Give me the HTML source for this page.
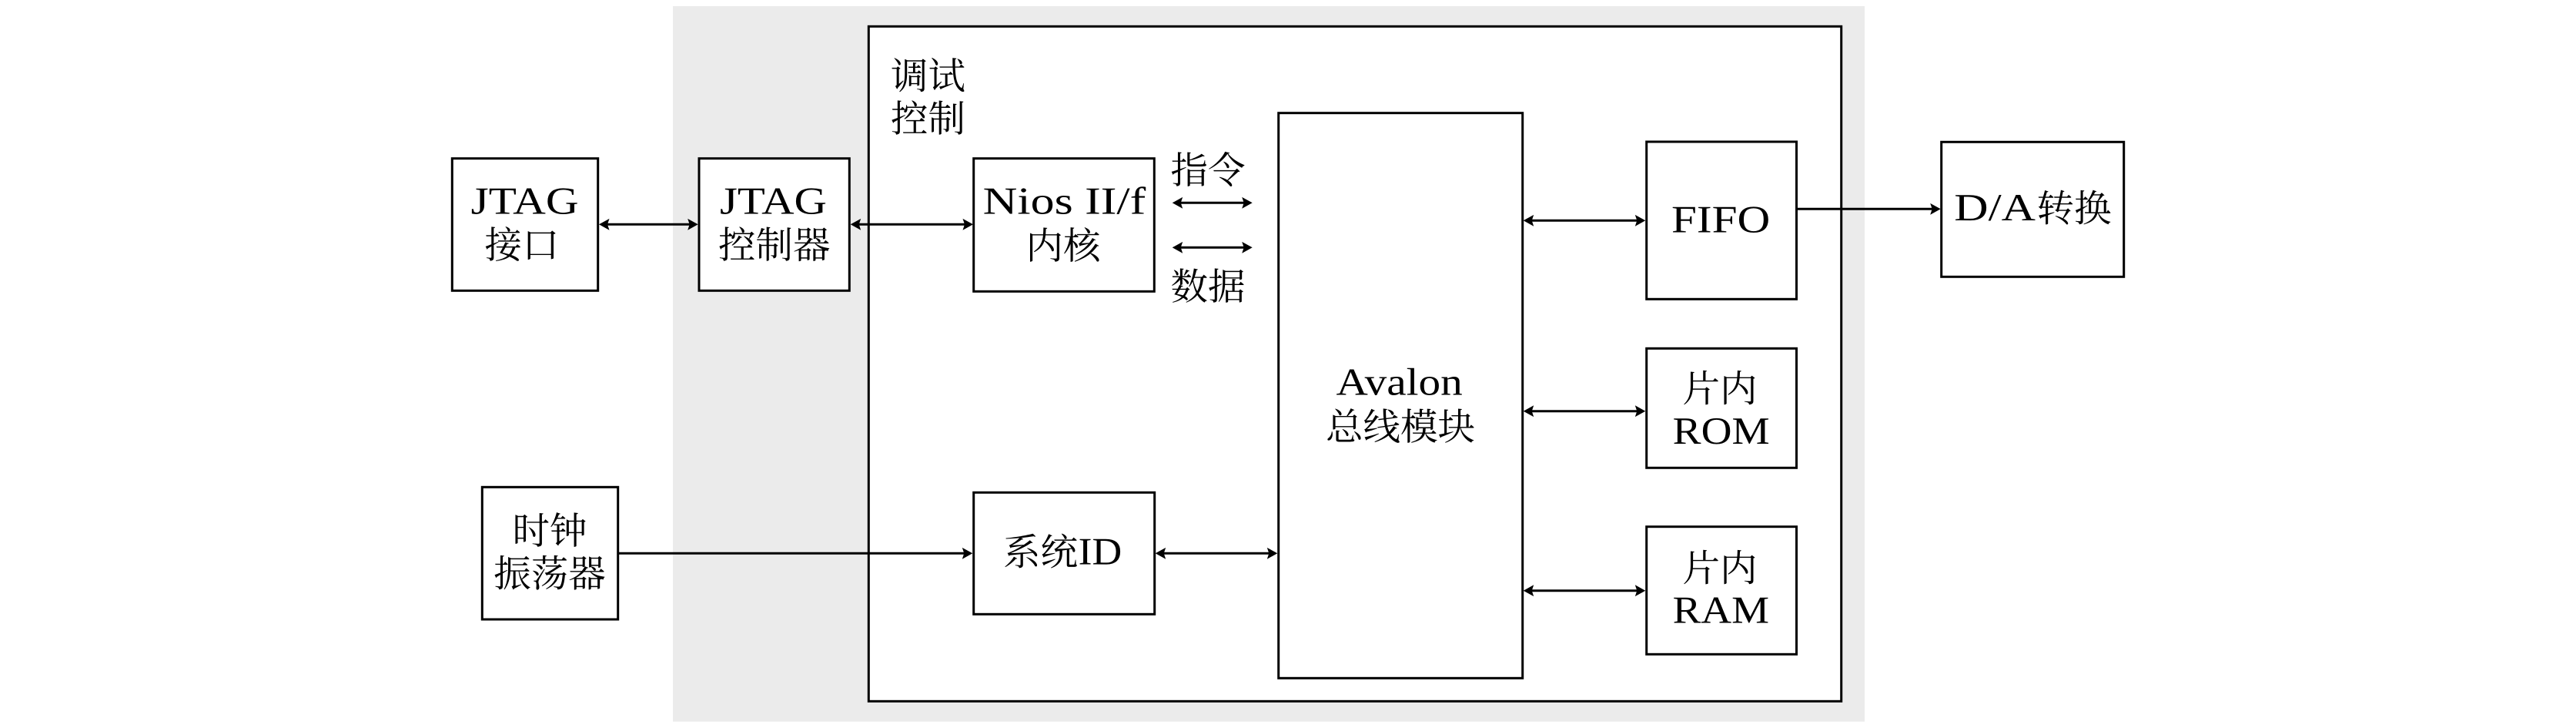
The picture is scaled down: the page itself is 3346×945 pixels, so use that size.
<!DOCTYPE html>
<html lang="zh">
<head>
<meta charset="utf-8">
<title>Diagram</title>
<style>
html,body{margin:0;padding:0;background:#fff;width:3346px;height:945px;overflow:hidden}
svg{display:block}
.b{fill:#fff;stroke:#000;stroke-width:3}
.l{stroke:#000;stroke-width:3;fill:none}
.h{fill:#000}
.lat{font-family:"Liberation Serif",serif;font-size:50px;fill:#000}
.cjk{font-family:"Liberation Serif","Noto Serif CJK SC",serif;font-size:48.5px;fill:#000}
text{text-rendering:geometricPrecision}
</style>
</head>
<body>
<svg xmlns="http://www.w3.org/2000/svg" width="3346" height="945" viewBox="0 0 3346 945">
<rect x="0" y="0" width="3346" height="945" fill="#fff"/>
<rect x="874" y="8" width="1548" height="928.7" fill="#ebebeb"/>
<rect class="b" x="1128.3" y="34.3" width="1263.4" height="876"/>

<rect class="b" x="587.3" y="205.7" width="189.4" height="171.6"/>
<rect class="b" x="908" y="205.7" width="195.3" height="171.6"/>
<rect class="b" x="1264.7" y="205.7" width="234.6" height="172.6"/>
<rect class="b" x="1660.7" y="146.7" width="317" height="733.6"/>
<rect class="b" x="2138.7" y="184" width="194.8" height="204.3"/>
<rect class="b" x="2138.7" y="452.3" width="194.8" height="155"/>
<rect class="b" x="2138.7" y="683.7" width="194.8" height="165.6"/>
<rect class="b" x="2521.7" y="184.3" width="237" height="175"/>
<rect class="b" x="626.3" y="632.3" width="176.4" height="171.7"/>
<rect class="b" x="1264.7" y="639.3" width="235" height="158"/>

<!-- connectors -->
<path class="l" d="M785 291.3H900M1112 291.3H1258M1530 263.3H1620M1530 321.3H1620M1987 286.3H2131M2334.7 271.3H2514M803 718.3H1257M1509 718.3H1653M1987 533.7H2131M1987 766.7H2131"/>
<!-- arrowheads -->
<path class="h" d="M778 291.3l13.5-7.4l-2.5 7.4l2.5 7.4zM906.7 291.3l-13.5-7.4l2.5 7.4l-2.5 7.4z"/>
<path class="h" d="M1104.7 291.3l13.5-7.4l-2.5 7.4l2.5 7.4zM1264 291.3l-13.5-7.4l2.5 7.4l-2.5 7.4z"/>
<path class="h" d="M1522.7 263.3l13.5-7.4l-2.5 7.4l2.5 7.4zM1626.7 263.3l-13.5-7.4l2.5 7.4l-2.5 7.4z"/>
<path class="h" d="M1522.7 321.3l13.5-7.4l-2.5 7.4l2.5 7.4zM1626.7 321.3l-13.5-7.4l2.5 7.4l-2.5 7.4z"/>
<path class="h" d="M1978.7 286.3l13.5-7.4l-2.5 7.4l2.5 7.4zM2137.3 286.3l-13.5-7.4l2.5 7.4l-2.5 7.4z"/>
<path class="h" d="M1978.7 533.7l13.5-7.4l-2.5 7.4l2.5 7.4zM2137.3 533.7l-13.5-7.4l2.5 7.4l-2.5 7.4z"/>
<path class="h" d="M1978.7 766.7l13.5-7.4l-2.5 7.4l2.5 7.4zM2137.3 766.7l-13.5-7.4l2.5 7.4l-2.5 7.4z"/>
<path class="h" d="M2520.7 271.3l-13.5-7.4l2.5 7.4l-2.5 7.4z"/>
<path class="h" d="M1263.3 718.3l-13.5-7.4l2.5 7.4l-2.5 7.4z"/>
<path class="h" d="M1500.7 718.3l13.5-7.4l-2.5 7.4l2.5 7.4zM1659.3 718.3l-13.5-7.4l2.5 7.4l-2.5 7.4z"/>

<!-- labels -->
<text class="lat" x="611.7" y="277.3" textLength="140" lengthAdjust="spacingAndGlyphs">JTAG</text>
<text class="cjk" x="678" y="335" text-anchor="middle">接口</text>
<text class="lat" x="935" y="277.3" textLength="139" lengthAdjust="spacingAndGlyphs">JTAG</text>
<text class="cjk" x="1005.7" y="335" text-anchor="middle">控制器</text>
<text class="lat" x="1276.7" y="277.3" textLength="211.6" lengthAdjust="spacingAndGlyphs">Nios II/f</text>
<text class="cjk" x="1381" y="336" text-anchor="middle">内核</text>
<text class="cjk" x="1157" y="115.5">调试</text>
<text class="cjk" x="1157" y="171">控制</text>
<text class="cjk" x="1520.5" y="238">指令</text>
<text class="cjk" x="1520.5" y="389">数据</text>
<text class="lat" x="2171" y="301.7" textLength="128.3" lengthAdjust="spacingAndGlyphs">FIFO</text>
<text class="lat" x="2538.3" y="286" textLength="105.7" lengthAdjust="spacingAndGlyphs">D/A</text>
<text class="cjk" x="2645.5" y="287.5">转换</text>
<text class="cjk" x="714" y="706" text-anchor="middle">时钟</text>
<text class="cjk" x="714" y="761.5" text-anchor="middle">振荡器</text>
<text class="cjk" x="1303" y="733.5">系统</text>
<text class="lat" x="1400.7" y="732.7" textLength="56.6" lengthAdjust="spacingAndGlyphs">ID</text>
<text class="lat" x="1735.5" y="512.7" textLength="164.3" lengthAdjust="spacingAndGlyphs">Avalon</text>
<text class="cjk" x="1819" y="571" text-anchor="middle">总线模块</text>
<text class="cjk" x="2234" y="521.5" text-anchor="middle">片内</text>
<text class="lat" x="2172.7" y="576" textLength="126" lengthAdjust="spacingAndGlyphs">ROM</text>
<text class="cjk" x="2234" y="754.5" text-anchor="middle">片内</text>
<text class="lat" x="2172.7" y="808.3" textLength="125.3" lengthAdjust="spacingAndGlyphs">RAM</text>
</svg>
</body>
</html>
